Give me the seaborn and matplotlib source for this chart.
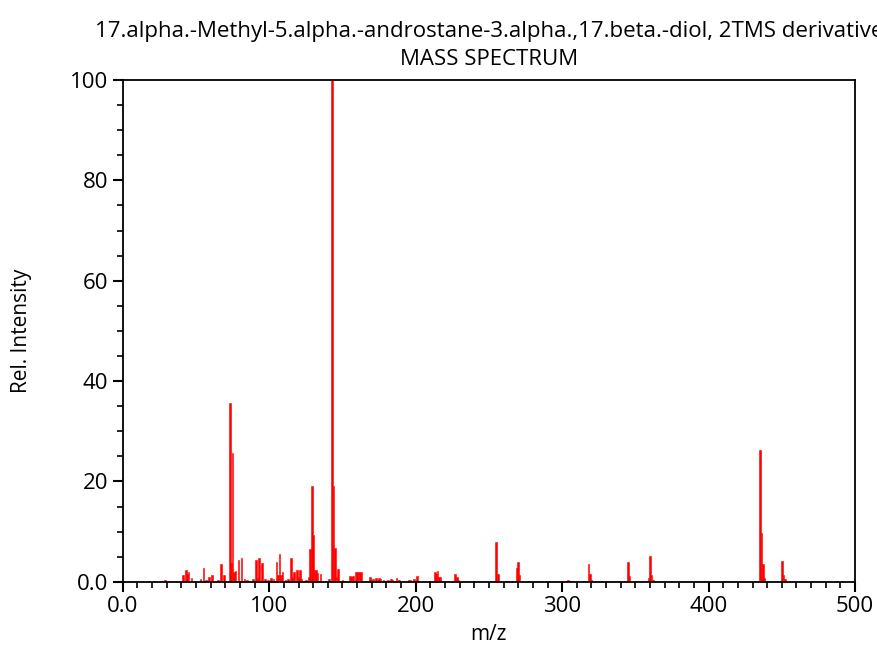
import matplotlib
matplotlib.use('Agg')
import matplotlib.pyplot as plt
import seaborn as sns
import numpy as np
from matplotlib.ticker import MultipleLocator

# peak list (m/z, relative intensity)
mz = [29, 41, 43, 44, 45, 47, 53, 55, 57, 59, 61, 65, 67, 69, 73, 74, 75, 76, 77,
      79, 81, 83, 85, 89, 91, 92, 93, 95, 97, 99, 101, 103, 105, 106, 107, 108,
      109, 111, 113, 115, 116, 117, 119, 120, 121, 122, 125, 127, 128, 129, 130,
      131, 132, 133, 135, 141, 143, 144, 145, 146, 147, 150, 155, 156, 157, 159,
      160, 161, 162, 163, 169, 170, 171, 173, 174, 175, 176, 178, 181, 183, 184,
      187, 188, 189, 195, 196, 199, 201, 209, 213, 214, 215, 216, 217, 227, 228,
      229, 240, 255, 256, 262, 269, 270, 271, 277, 291, 303, 304, 305, 318, 319,
      320, 327, 345, 346, 359, 360, 361, 362, 435, 436, 437, 438, 450, 451, 452]
intensity = [0.4, 1.4, 2.3, 1.6, 2.0, 0.7, 0.5, 2.8, 0.3, 0.9, 1.3, 0.3, 3.6, 1.3,
             35.6, 3.7, 25.6, 2.0, 2.2, 4.4, 4.8, 0.5, 0.4, 0.5, 4.4, 0.7, 4.8, 3.7,
             0.5, 0.4, 0.8, 0.5, 3.9, 1.4, 5.5, 1.4, 1.9, 0.4, 0.6, 4.8, 0.9, 1.9,
             2.4, 0.9, 2.4, 0.6, 0.3, 0.9, 6.6, 19.0, 9.4, 2.4, 2.4, 1.7, 1.6, 0.5,
             100.0, 19.0, 6.8, 0.9, 2.6, 0.3, 1.2, 1.0, 1.1, 1.9, 2.0, 2.0, 2.0, 2.0,
             1.0, 0.4, 0.5, 0.8, 0.4, 0.8, 0.5, 0.3, 0.3, 0.5, 0.4, 0.8, 0.4, 0.3,
             0.3, 0.4, 0.6, 1.2, 0.2, 1.9, 1.6, 2.2, 0.9, 0.9, 1.6, 0.9, 0.4, 0.2,
             8.0, 1.6, 0.2, 2.7, 3.9, 1.4, 0.1, 0.1, 0.2, 0.3, 0.2, 3.6, 1.6, 0.4,
             0.1, 4.0, 1.1, 0.8, 5.2, 1.4, 0.4, 26.2, 9.8, 3.5, 0.8, 4.2, 1.4, 0.6]

title = "17.alpha.-Methyl-5.alpha.-androstane-3.alpha.,17.beta.-diol, 2TMS derivative\nMASS SPECTRUM"
x_ticks = [0, 100, 200, 300, 400, 500]
x_labels = ['0.0', '100', '200', '300', '400', '500']
y_ticks = [0, 20, 40, 60, 80, 100]
y_labels = ['0.0', '20', '40', '60', '80', '100']

sns.set_style('ticks')
plt.rcParams['font.family'] = ['Open Sans', 'DejaVu Sans']
plt.rcParams['text.color'] = 'black'
plt.rcParams['axes.labelcolor'] = 'black'
plt.rcParams['xtick.color'] = 'black'
plt.rcParams['ytick.color'] = 'black'

fig, ax = plt.subplots(figsize=(8.77, 6.45), dpi=100)
fig.subplots_adjust(left=0.14, right=0.975, top=0.876, bottom=0.098)

sns.barplot(x=mz, y=intensity, native_scale=True, color='red', width=1.1,
            errorbar=None, saturation=1, linewidth=0.4, edgecolor='red', ax=ax)

ax.set_xlim(0, 500)
ax.set_ylim(0, 100)
ax.set_xticks(x_ticks)
ax.set_xticklabels(x_labels)
ax.set_yticks(y_ticks)
ax.set_yticklabels(y_labels)
ax.xaxis.set_minor_locator(MultipleLocator(10))
ax.yaxis.set_minor_locator(MultipleLocator(5))
ax.tick_params(axis='both', which='major', length=7, width=1.5, labelsize=16, direction='out')
ax.tick_params(axis='both', which='minor', length=4, width=1.2, direction='out')
for s in ax.spines.values():
    s.set_linewidth(1.3)
    s.set_color('black')

ax.set_xlabel('m/z', fontsize=15, labelpad=5)
ax.set_ylabel('Rel. Intensity', fontsize=15, labelpad=27)
ax.set_title(title, fontsize=16, linespacing=1.4, pad=11)

fig.savefig('out.png', dpi=100)
